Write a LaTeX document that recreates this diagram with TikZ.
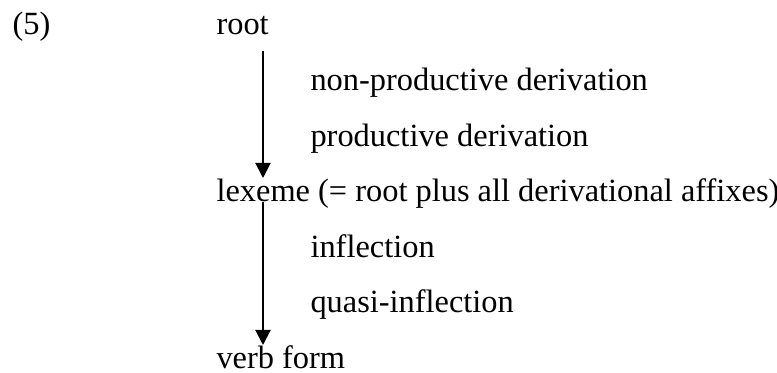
\documentclass[tikz,border=0pt]{standalone}
\usepackage{fontspec}
\setmainfont{Liberation Serif}
\usetikzlibrary{arrows.meta,calc}
\tikzset{
  line/.style={anchor=base west,inner sep=0pt,font=\fontsize{12.3}{14}\selectfont},
  every edge/.style={draw,line width=0.75pt,-{Triangle[length=5.7pt,width=5.7pt]}},
}
\begin{document}
\begin{tikzpicture}[x=0.3797pt,y=-0.3797pt]
\useasboundingbox (0,0) rectangle (777,372);

\node[line] (num) at (12,35) {(5)};
\node[line] (root) at (216,35) {root};
\node[line] (npd) at (310,90.5) {non-productive derivation};
\node[line] (pd) at (310,146) {productive derivation};
\node[line] (lex) at (216,201.5) {lexeme (= root plus all derivational affixes)};
\node[line] (infl) at (310,257) {inflection};
\node[line] (qinfl) at (310,312.5) {quasi-inflection};
\node[line] (verb) at (216,368) {verb form};

\coordinate (s1) at (263,51);
\coordinate (e1) at (263,178);
\coordinate (s2) at (263,202);
\coordinate (e2) at (263,345);

\draw (s1) edge (e1);
\draw (s2) edge (e2);

\end{tikzpicture}
\end{document}
